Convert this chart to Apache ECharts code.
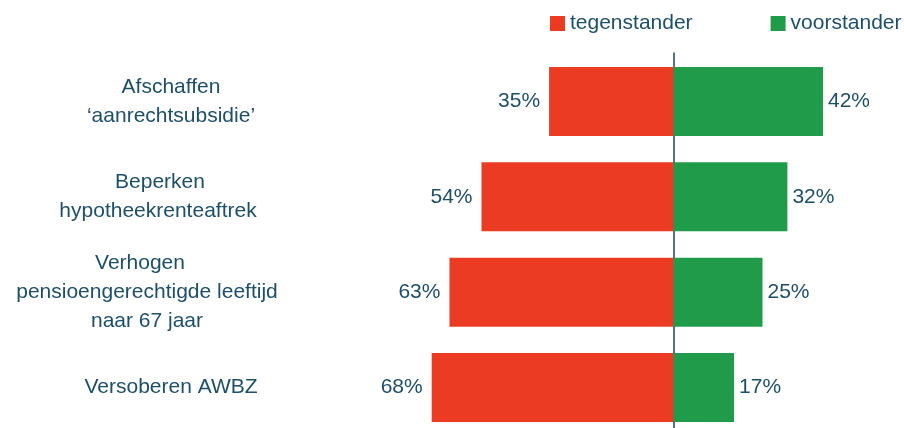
<!DOCTYPE html>
<html>
<head>
<meta charset="utf-8">
<script src="https://cdn.jsdelivr.net/npm/echarts@6/dist/echarts.min.js"></script>
<style>
html,body{margin:0;padding:0;background:#fff;}
#main{width:904px;height:428px;}
</style>
</head>
<body>
<div id="main"></div>
<script>
// categorieen (van boven naar beneden)
var categories = [
	'Afschaffen\n\u2018aanrechtsubsidie\u2019',
	'Beperken\nhypotheekrenteaftrek',
	'Verhogen\npensioengerechtigde leeftijd\nnaar 67 jaar',
	'Versoberen AWBZ'
];
// percentages
var tegenstander = [35, 54, 63, 68];
var voorstander = [42, 32, 25, 17];

var textColor = '#1c4f69';
var font = 'Liberation Sans, Arial, sans-serif';

// labels staan niet allemaal even ver naar links (extra ruimte rechts per regel)
var labelShift = [[0, 0], [22, 26], [62, 48, 48], [0]];

var rich = {};
labelShift.forEach(function(row, i){
	row.forEach(function(s, j){
		rich['l' + i + '_' + j] = {
			color: textColor, fontSize: 21, fontFamily: font, lineHeight: 29,
			padding: [0, s, 0, 0]
		};
	});
});

var option = {
	animation: false,
	textStyle: { fontFamily: font },
	legend: {
		left: 550,
		top: 13,
		padding: 0,
		itemWidth: 15,
		itemHeight: 15,
		itemGap: 78,
		icon: 'rect',
		textStyle: { color: textColor, fontSize: 21, fontFamily: font },
		data: ['tegenstander', 'voorstander']
	},
	// grid 0: balken, grid 1: alleen de middenlijn
	grid: [
		{ left: 389, right: 17, top: 101.5, height: 286, containLabel: false },
		{ left: 389, right: 17, top: 53, bottom: 0, containLabel: false }
	],
	xAxis: [
		{ type: 'value', gridIndex: 0, min: -80, max: 60, show: false },
		{ type: 'value', gridIndex: 1, min: -80, max: 60, axisLabel: { show: false }, axisTick: { show: false }, axisLine: { show: false }, splitLine: { show: false } }
	],
	yAxis: [
		{
			type: 'category',
			gridIndex: 0,
			inverse: true,
			boundaryGap: false,
			data: categories,
			axisTick: { show: false },
			axisLine: { show: false },
			axisLabel: {
				color: textColor,
				fontSize: 21,
				fontFamily: font,
				align: 'center',
				margin: 218,
				lineHeight: 29,
				formatter: function(value, index){
					return value.split('\n').map(function(line, j){
						return '{l' + index + '_' + j + '|' + line + '}';
					}).join('\n');
				},
				rich: rich
			}
		},
		{
			type: 'category',
			gridIndex: 1,
			data: [''],
			axisTick: { show: false },
			axisLabel: { show: false },
			axisLine: { show: true, onZero: true, lineStyle: { color: '#1d4560', width: 1.5 } }
		}
	],
	series: [
		{
			name: 'tegenstander',
			type: 'bar',
			stack: 'totaal',
			barWidth: 69,
			clip: false,
			itemStyle: { color: '#eb3b23' },
			label: {
				show: true,
				position: 'left',
				distance: 9,
				color: textColor,
				fontSize: 21,
				fontFamily: font,
				formatter: function(p){ return Math.abs(p.value) + '%'; }
			},
			data: tegenstander.map(function(v){ return -v; })
		},
		{
			name: 'voorstander',
			type: 'bar',
			stack: 'totaal',
			barWidth: 69,
			clip: false,
			itemStyle: { color: '#209b4a' },
			label: {
				show: true,
				position: 'right',
				distance: 5,
				color: textColor,
				fontSize: 21,
				fontFamily: font,
				formatter: '{c}%'
			},
			data: voorstander
		}
	]
};

var myChart = echarts.init(document.getElementById('main'));
myChart.setOption(option);
</script>
</body>
</html>
